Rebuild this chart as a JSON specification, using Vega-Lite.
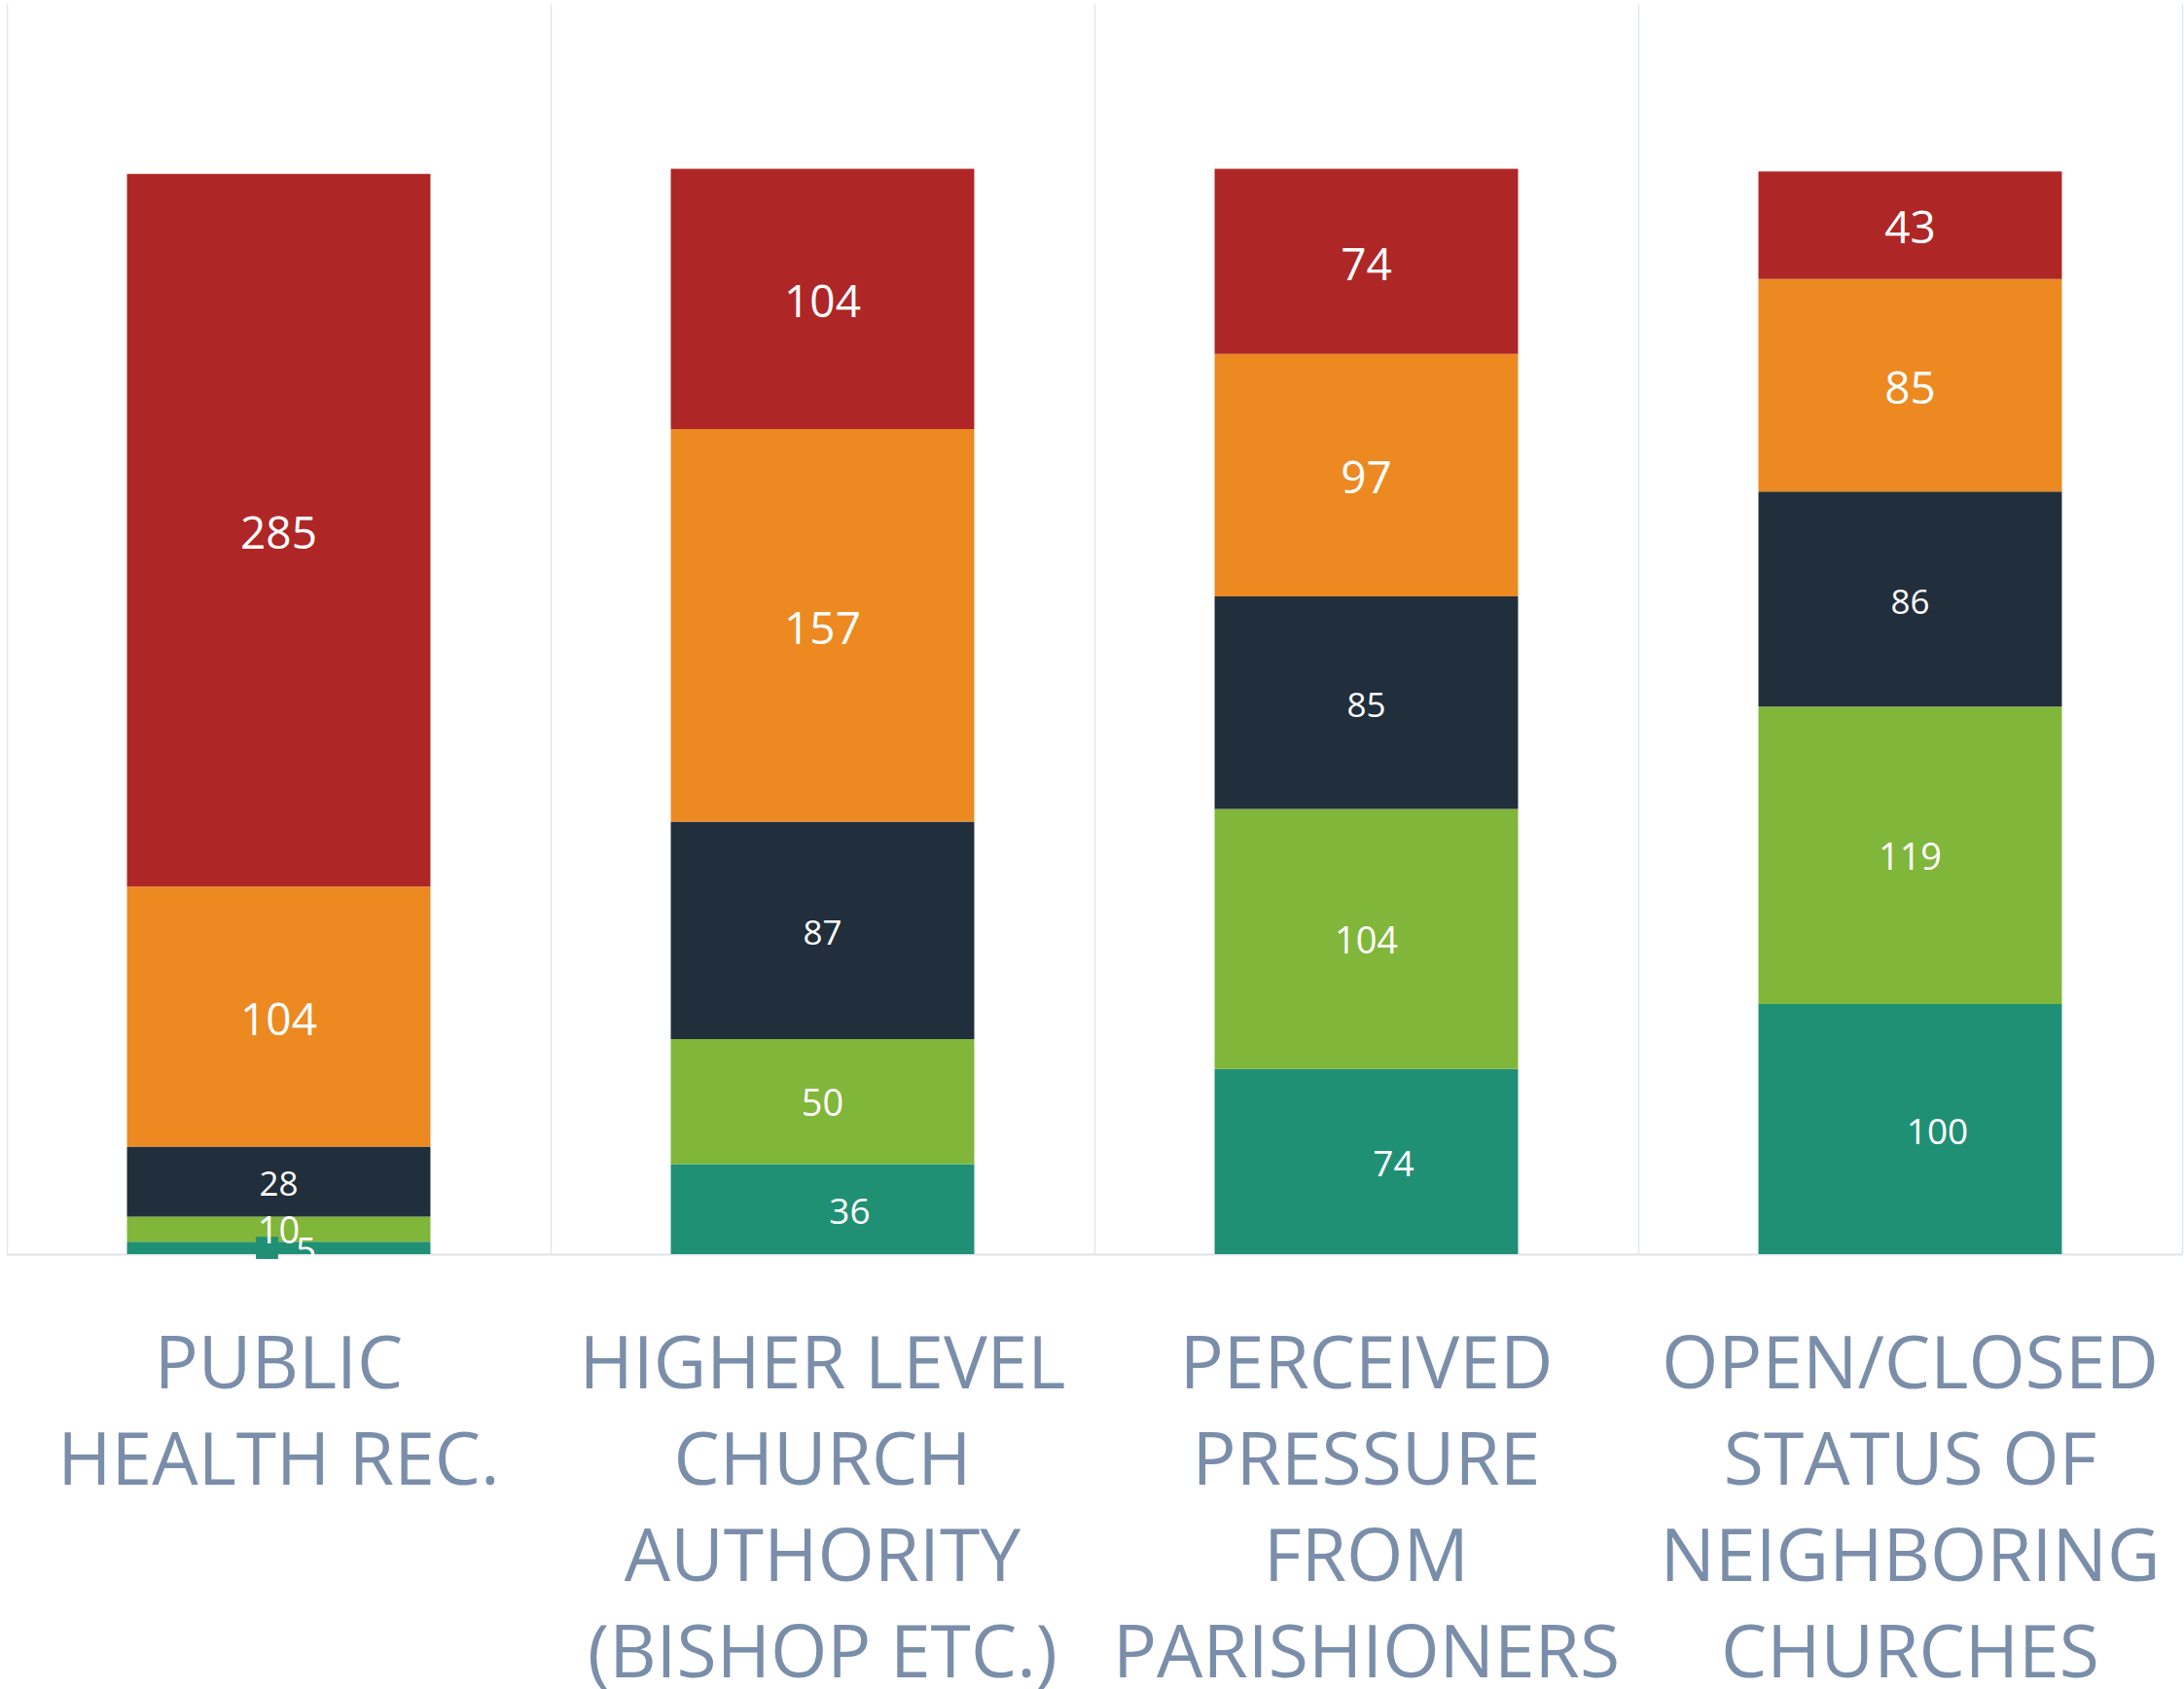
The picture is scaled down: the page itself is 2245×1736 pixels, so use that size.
{
  "$schema": "https://vega.github.io/schema/vega-lite/v6.json",
  "width": 2236,
  "height": 1285,
  "autosize": {"type": "none"},
  "padding": {"left": 7, "top": 4, "right": 2, "bottom": 447},
  "background": "white",
  "config": {"view": {"stroke": null}, "font": "Open Sans"},
  "data": {
    "values": [
      {"cat": "PUBLIC|HEALTH REC.", "series": "Level 1", "value": 5},
      {"cat": "PUBLIC|HEALTH REC.", "series": "Level 2", "value": 10},
      {"cat": "PUBLIC|HEALTH REC.", "series": "Level 3", "value": 28},
      {"cat": "PUBLIC|HEALTH REC.", "series": "Level 4", "value": 104},
      {"cat": "PUBLIC|HEALTH REC.", "series": "Level 5", "value": 285},
      {"cat": "HIGHER LEVEL|CHURCH|AUTHORITY|(BISHOP ETC.)", "series": "Level 1", "value": 36},
      {"cat": "HIGHER LEVEL|CHURCH|AUTHORITY|(BISHOP ETC.)", "series": "Level 2", "value": 50},
      {"cat": "HIGHER LEVEL|CHURCH|AUTHORITY|(BISHOP ETC.)", "series": "Level 3", "value": 87},
      {"cat": "HIGHER LEVEL|CHURCH|AUTHORITY|(BISHOP ETC.)", "series": "Level 4", "value": 157},
      {"cat": "HIGHER LEVEL|CHURCH|AUTHORITY|(BISHOP ETC.)", "series": "Level 5", "value": 104},
      {"cat": "PERCEIVED|PRESSURE|FROM|PARISHIONERS", "series": "Level 1", "value": 74},
      {"cat": "PERCEIVED|PRESSURE|FROM|PARISHIONERS", "series": "Level 2", "value": 104},
      {"cat": "PERCEIVED|PRESSURE|FROM|PARISHIONERS", "series": "Level 3", "value": 85},
      {"cat": "PERCEIVED|PRESSURE|FROM|PARISHIONERS", "series": "Level 4", "value": 97},
      {"cat": "PERCEIVED|PRESSURE|FROM|PARISHIONERS", "series": "Level 5", "value": 74},
      {"cat": "OPEN/CLOSED|STATUS OF|NEIGHBORING|CHURCHES", "series": "Level 1", "value": 100},
      {"cat": "OPEN/CLOSED|STATUS OF|NEIGHBORING|CHURCHES", "series": "Level 2", "value": 119},
      {"cat": "OPEN/CLOSED|STATUS OF|NEIGHBORING|CHURCHES", "series": "Level 3", "value": 86},
      {"cat": "OPEN/CLOSED|STATUS OF|NEIGHBORING|CHURCHES", "series": "Level 4", "value": 85},
      {"cat": "OPEN/CLOSED|STATUS OF|NEIGHBORING|CHURCHES", "series": "Level 5", "value": 43}
    ]
  },
  "transform": [
    {"stack": "value", "groupby": ["cat"], "sort": [{"field": "series", "order": "ascending"}], "as": ["v0", "v1"]},
    {"calculate": "(datum.v0 + datum.v1) / 2", "as": "mid"}
  ],
  "encoding": {
    "x": {
      "field": "cat",
      "type": "nominal",
      "sort": null,
      "scale": {"paddingInner": 0, "paddingOuter": 0},
      "axis": {
        "title": null,
        "labelAngle": 0,
        "labelExpr": "split(datum.label, '|')",
        "labelFont": "Open Sans",
        "labelFontSize": 75,
        "labelColor": "#7A8EAA",
        "labelLineHeight": 99,
        "labelPadding": 78,
        "labelLimit": 0,
        "ticks": false,
        "domain": true,
        "domainColor": "#DFE3E9",
        "domainWidth": 2,
        "grid": true,
        "gridColor": "#E3E6EA",
        "gridWidth": 1.5,
        "bandPosition": 0
      }
    }
  },
  "layer": [
    {
      "mark": {"type": "bar", "width": {"band": 0.558}},
      "encoding": {
        "y": {
          "field": "v1",
          "type": "quantitative",
          "scale": {"domain": [0, 500], "nice": false},
          "axis": {"orient": "right", "title": null, "labels": false, "ticks": false, "grid": false, "domain": true, "domainColor": "#E3E6EA", "domainWidth": 1.5}
        },
        "y2": {"field": "v0"},
        "color": {
          "field": "series",
          "type": "nominal",
          "scale": {"domain": ["Level 1", "Level 2", "Level 3", "Level 4", "Level 5"], "range": ["#1F9074", "#80B63A", "#212E3B", "#EC8921", "#AF2626"]},
          "legend": null
        }
      }
    },
    {
      "transform": [{"filter": "datum.cat == 'PUBLIC|HEALTH REC.' && datum.series == 'Level 1'"}],
      "mark": {"type": "point", "shape": "square", "filled": true, "size": 520, "opacity": 1, "xOffset": -12, "color": "#1F9074"},
      "encoding": {
        "y": {"field": "mid", "type": "quantitative"}
      }
    },
    {
      "transform": [{"filter": "datum.series == 'Level 4' || datum.series == 'Level 5'"}],
      "mark": {"type": "text", "color": "white", "font": "Open Sans", "baseline": "middle", "align": "center", "dy": 5, "fontSize": 46},
      "encoding": {
        "y": {"field": "mid", "type": "quantitative"},
        "text": {"field": "value", "type": "quantitative"}
      }
    },
    {
      "transform": [{"filter": "datum.series == 'Level 3'"}],
      "mark": {"type": "text", "color": "white", "font": "Open Sans", "baseline": "middle", "align": "center", "dy": 4, "fontSize": 35},
      "encoding": {
        "y": {"field": "mid", "type": "quantitative"},
        "text": {"field": "value", "type": "quantitative"}
      }
    },
    {
      "transform": [{"filter": "datum.series == 'Level 2'"}],
      "mark": {"type": "text", "color": "white", "font": "Open Sans", "baseline": "middle", "align": "center", "dy": 4, "fontSize": 38},
      "encoding": {
        "y": {"field": "mid", "type": "quantitative"},
        "text": {"field": "value", "type": "quantitative"}
      }
    },
    {
      "transform": [{"filter": "datum.series == 'Level 1'"}],
      "mark": {"type": "text", "color": "white", "font": "Open Sans", "baseline": "middle", "align": "center", "dx": 28, "dy": 4, "fontSize": 37},
      "encoding": {
        "y": {"field": "mid", "type": "quantitative"},
        "text": {"field": "value", "type": "quantitative"}
      }
    }
  ]
}
